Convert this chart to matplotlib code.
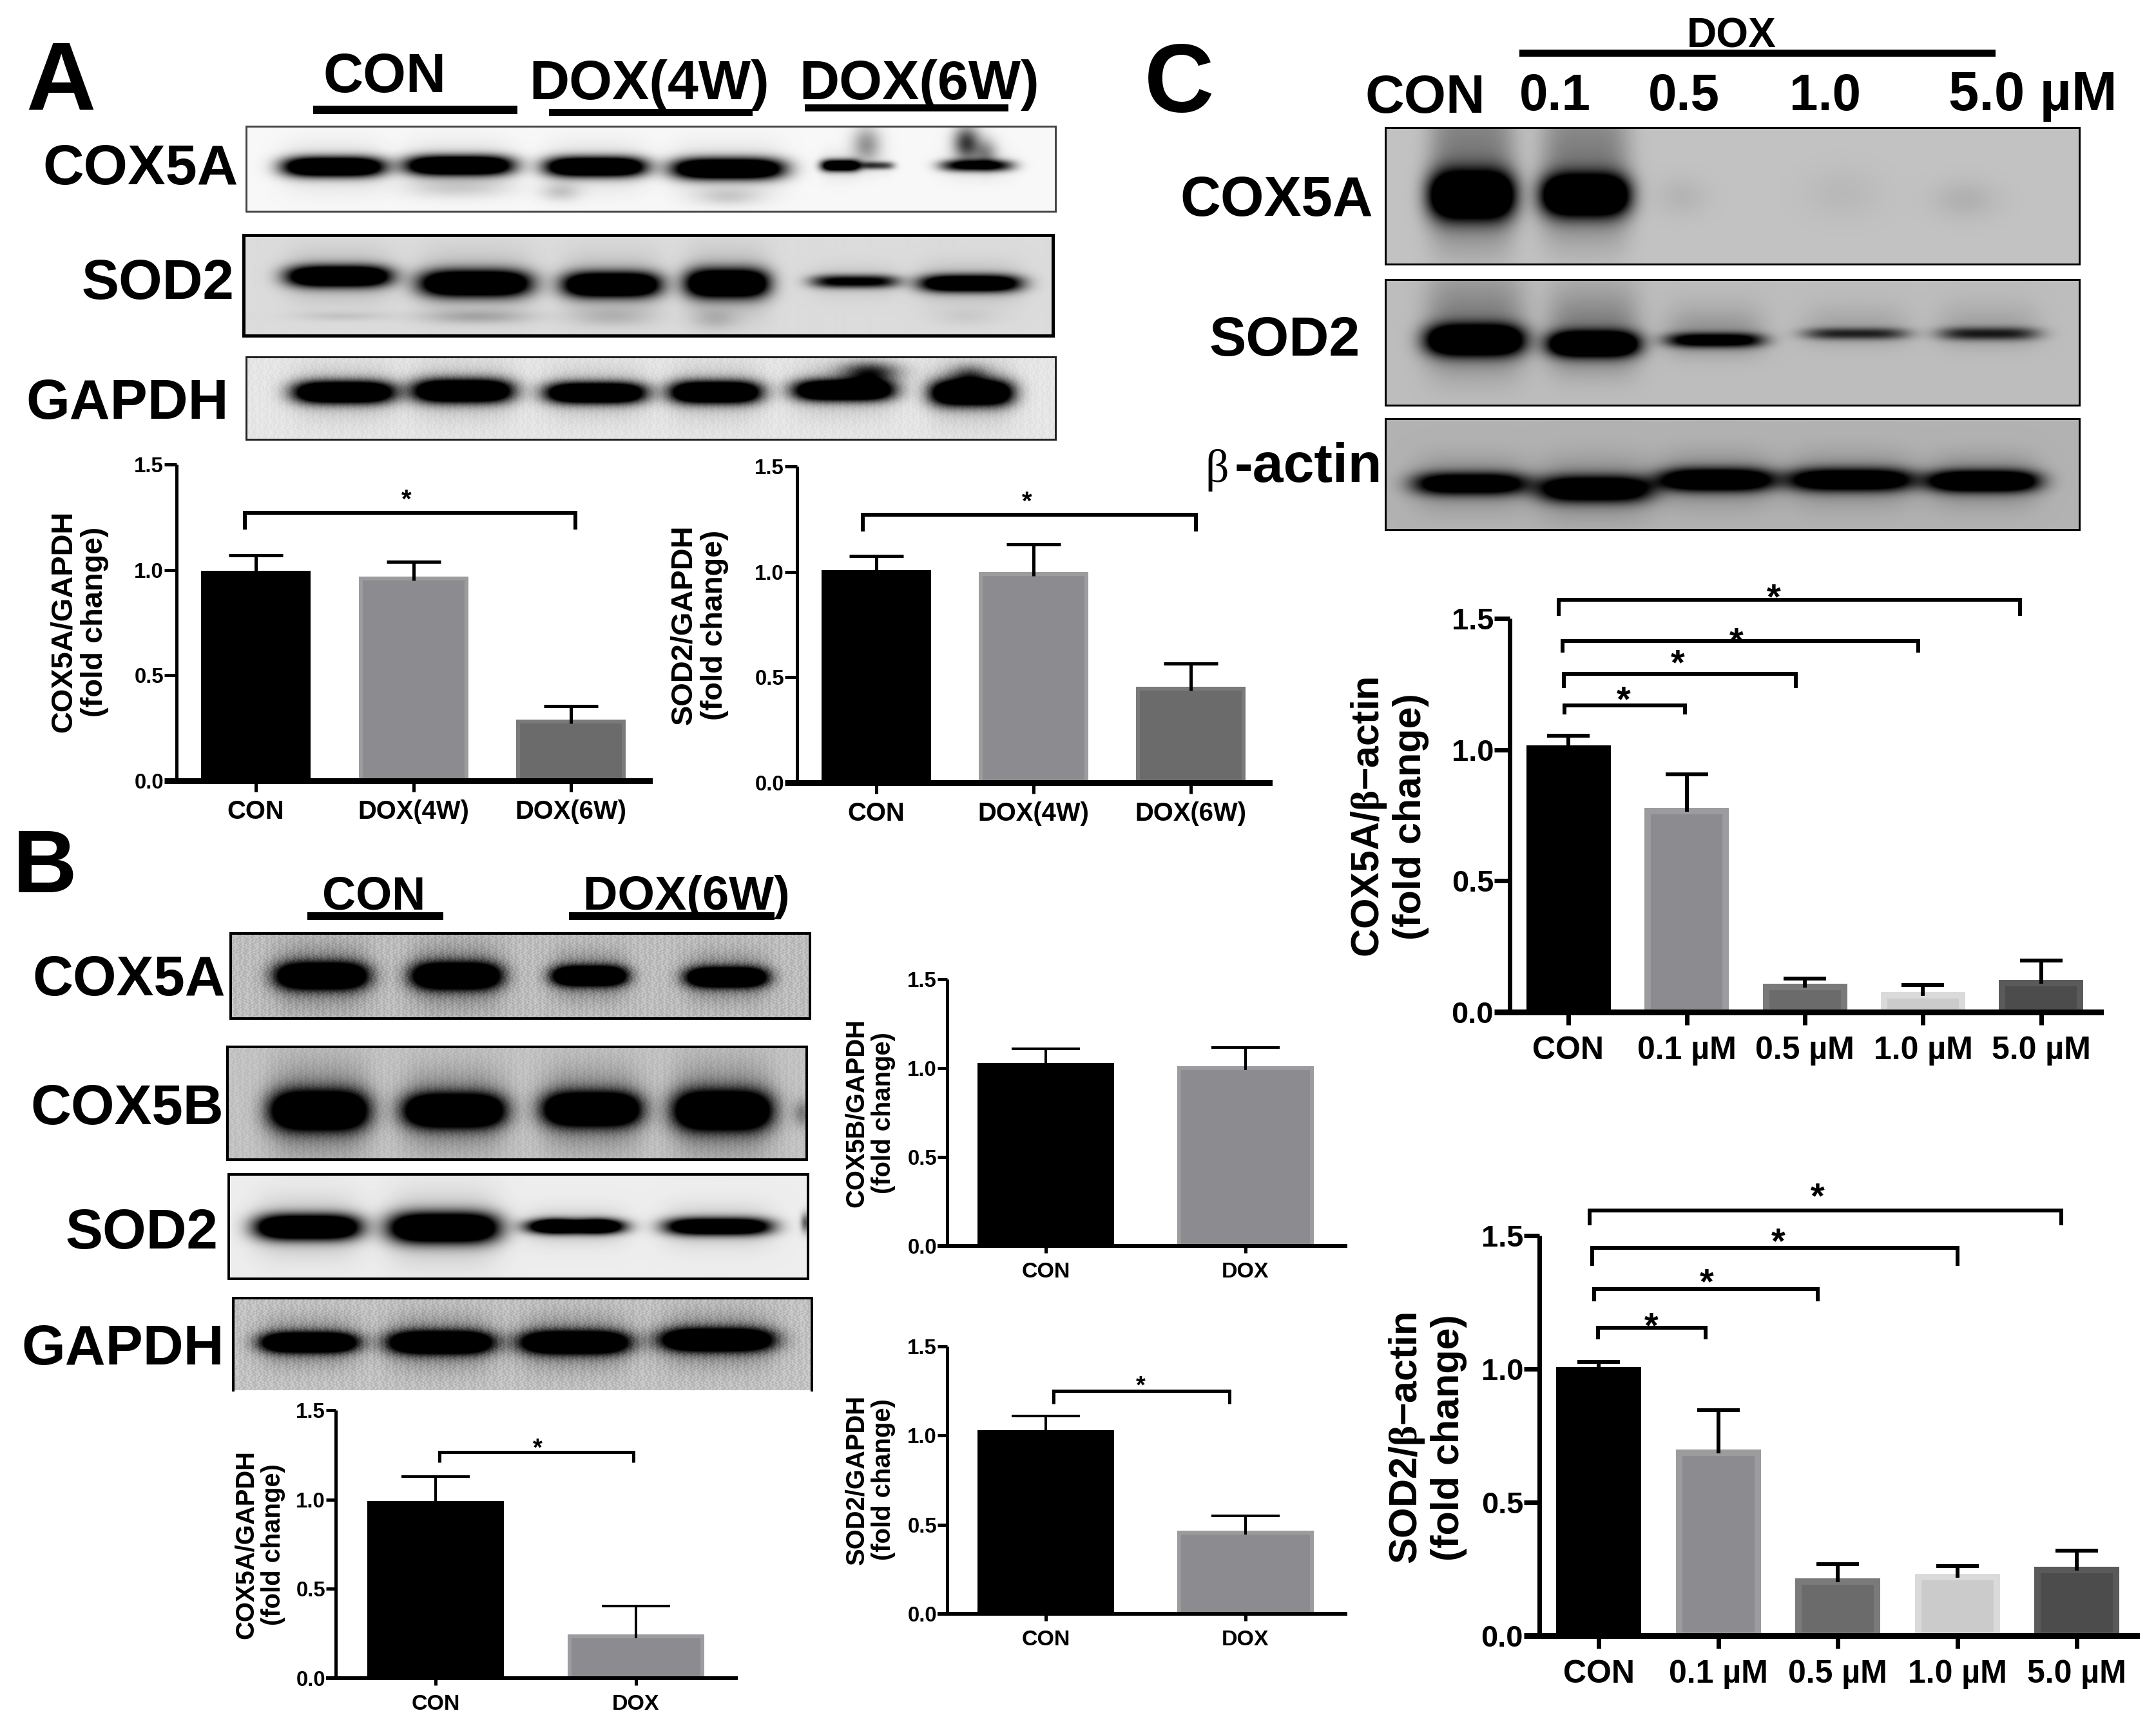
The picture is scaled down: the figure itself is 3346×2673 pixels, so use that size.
import numpy as np
import matplotlib
matplotlib.use("Agg")
import matplotlib.pyplot as plt

W, H = 3346, 2673
DPI = 100
PT = 72 / DPI
plt.rcParams.update({
    "font.family": ["Liberation Sans", "DejaVu Sans"],
    "font.weight": "bold",
    "axes.labelweight": "bold",
    "mathtext.fontset": "custom",
    "mathtext.rm": "Liberation Serif",
    "mathtext.bf": "Liberation Sans:bold",
    "mathtext.default": "bf",
})

# ------------ data ------------
A1_labels = ["CON", "DOX(4W)", "DOX(6W)"]
A1_means = [0.996, 0.967, 0.29]
A1_errs = [0.074, 0.073, 0.065]
A2_means = [1.008, 1.0, 0.455]
A2_errs = [0.067, 0.13, 0.109]

B_labels = ["CON", "DOX"]
B1_means = [0.993, 0.244]
B1_errs = [0.137, 0.161]
B2_means = [1.028, 1.011]
B2_errs = [0.079, 0.105]
B3_means = [1.03, 0.465]
B3_errs = [0.08, 0.085]

C_labels = ["CON", "0.1 µM", "0.5 µM", "1.0 µM", "5.0 µM"]
C1_means = [1.016, 0.779, 0.109, 0.076, 0.122]
C1_errs = [0.036, 0.126, 0.018, 0.027, 0.075]
C2_means = [1.008, 0.697, 0.215, 0.231, 0.259]
C2_errs = [0.018, 0.149, 0.053, 0.03, 0.061]

Y_TICKS = [0.0, 0.5, 1.0, 1.5]
FILLS = ["#000000", "#8c8c90", "#6b6b6b", "#cbcbcb", "#4c4c4c"]
EDGES = ["#000000", "#9c9c9e", "#7a7a7a", "#dadada", "#5a5a5a"]

fig = plt.figure(figsize=(W / DPI, H / DPI), dpi=DPI, facecolor="white")


def T(cx, base, s, px, ha="center", **kw):
    fig.text(cx / W, 1 - base / H, s, fontsize=px * PT, ha=ha, va="baseline", **kw)


def star(cx, cy, px):
    T(cx, cy + 0.58 * px, "*", px)


def line(x0, x1, y0, y1):
    fig.patches.append(plt.Rectangle((x0 / W, 1 - y1 / H), (x1 - x0) / W, (y1 - y0) / H,
                                     transform=fig.transFigure, color="black", lw=0))


def bars(box, centers, bar_w, labels, means, errs, ylabel, ylab_pos, ylab_px,
         ytick_px, xtick_px, spine, xspine, edge_px, cap_px, err_lw, tick_len,
         xtick_len, ypad, xpad, brackets=(), br_lw=5, stars=(), star_px=40):
    x0, x1, ytop, ybot = box
    ax = fig.add_axes([x0 / W, 1 - ybot / H, (x1 - x0) / W, (ybot - ytop) / H])
    c0 = centers[0]
    step = (centers[-1] - centers[0]) / (len(centers) - 1)
    tocat = lambda p: (p - c0) / step
    pos = np.arange(len(labels))
    per_px = 1.5 / (ybot - ytop)
    means = np.asarray(means)
    # the outline straddles the bar's edge: hold the top of the ink at the value
    ax.bar(pos, means - edge_px / 2 * per_px, width=(bar_w - edge_px) / step,
           color=FILLS[:len(labels)], edgecolor=EDGES[:len(labels)],
           linewidth=edge_px * PT, zorder=1)
    lower = np.full(len(errs), 6 * per_px)
    _, caps, _ = ax.errorbar(pos, means, yerr=[lower, errs], fmt="none", ecolor="black",
                             elinewidth=err_lw * PT, capsize=cap_px / 2 * PT,
                             capthick=err_lw * PT, zorder=3)
    caps[0].set_visible(False)
    ax.set_xlim(tocat(x0), tocat(x1))
    ax.set_ylim(0, 1.5)
    ax.patch.set_alpha(0)
    for s in ("top", "right"):
        ax.spines[s].set_visible(False)
    ax.spines["left"].set_linewidth(spine * PT)
    ax.spines["bottom"].set_linewidth(xspine * PT)
    ax.spines["left"].set_capstyle("butt")
    ax.set_xticks(pos, labels)
    ax.set_yticks(Y_TICKS, [f"{t:.1f}" for t in Y_TICKS])
    ax.tick_params(axis="y", length=tick_len * PT, width=spine * PT, labelsize=ytick_px * PT, pad=ypad * PT)
    ax.tick_params(axis="x", length=xtick_len * PT, width=spine * PT, labelsize=xtick_px * PT, pad=xpad * PT)
    ax.yaxis.get_major_ticks()[0].tick1line.set_markeredgewidth(xspine * PT)
    ax.set_ylabel(ylabel, fontsize=ylab_px * PT, linespacing=1.12)
    ax.yaxis.set_label_coords(ylab_pos[0] / W, 1 - ylab_pos[1] / H, transform=fig.transFigure)
    ax.yaxis.label.set_va("center")
    ax.yaxis.label.set_ha("center")
    for xl, xr, yt, yd in brackets:
        ax.plot([tocat(xl), tocat(xl), tocat(xr), tocat(xr)], [yd, yt, yt, yd], color="black",
                lw=br_lw * PT, clip_on=False, solid_joinstyle="miter", solid_capstyle="butt", zorder=4)
    for sx, sy in stars:
        star(sx, sy, star_px)
    return ax


def blot(rect, bg, bands, halo=0.35, up=1.0, lw=4, edge="black", hide_bottom=False,
         extra=(), grain=0.0):
    x0, x1, y0, y1 = rect
    ax = fig.add_axes([x0 / W, 1 - y1 / H, (x1 - x0) / W, (y1 - y0) / H])
    X, Y = np.meshgrid(np.arange(x0, x1) + 0.5, np.arange(y0, y1) + 0.5)
    dark = np.zeros_like(X, dtype=float)
    for xl, xr, cy, hh, amp in bands:
        cx, hw = (xl + xr) / 2, (xr - xl) / 2
        dx, dy = np.abs(X - cx), Y - cy
        core = np.exp(-(dx / hw) ** 4) * np.exp(-(np.abs(dy) / hh) ** 2.2)
        scale = np.where(dy < 0, hh * 2.3 * up, hh * 2.3)
        glow = np.exp(-(dx / (hw * 1.0)) ** 4) * np.exp(-(np.abs(dy) / scale) ** 2)
        dark += amp * 1.7 * core + halo * amp * glow
    for cx, hw, cy, hh, amp in extra:
        dark += amp * np.exp(-((X - cx) / hw) ** 2) * np.exp(-((Y - cy) / hh) ** 2)
    img = bg * (1 - np.clip(dark, 0, 1))
    if grain:
        # fixed film mottling, lighter where the membrane is not exposed
        tex = np.sin(X * 0.83 + 3 * np.sin(Y * 0.37)) * np.sin(Y * 0.71 + 2 * np.sin(X * 0.23))
        img = np.clip(img + grain * tex * (img > 0.2), 0, 1)
    ax.imshow(img, cmap="gray", vmin=0, vmax=1, aspect="auto", interpolation="bilinear",
              extent=(x0, x1, y1, y0))
    ax.set_xticks([])
    ax.set_yticks([])
    for s in ax.spines.values():
        s.set_linewidth(lw * PT)
        s.set_edgecolor(edge)
    if hide_bottom:
        ax.spines["bottom"].set_visible(False)
    return ax


# ------------ panel A ------------
T(94, 170, "A", 150)
T(597, 143, "CON", 86)
T(1008, 154, "DOX(4W)", 86)
T(1427, 154, "DOX(6W)", 86)
line(486, 803, 164, 177)
line(852, 1168, 169, 180)
line(1249, 1565, 162, 173)
T(218, 286, "COX5A", 88)
T(245, 464, "SOD2", 87)
T(198, 650, "GAPDH", 87)

blot((382, 1638, 196, 328), 0.97, [
    (439, 597, 259, 15, 1), (629, 797, 257, 15, 1), (846, 1003, 259, 15, 1),
    (1043, 1217, 262, 16, 1), (1274, 1335, 257, 9, .85), (1335, 1388, 257, 6, .4),
    (1459, 1573, 257, 9, .6)], halo=0.14, lw=3, edge="#444444",
    extra=[(1345, 22, 225, 28, .4), (1500, 20, 222, 26, .75), (1530, 18, 238, 22, .4),
           (710, 80, 292, 15, .14), (1130, 50, 305, 14, .16), (870, 30, 298, 14, .18)])
blot((378, 1634, 365, 521), 0.86, [
    (445, 607, 429, 16, 1), (651, 824, 440, 20, 1), (873, 1025, 442, 19, 1),
    (1063, 1193, 440, 22, 1), (1258, 1394, 437, 10, .6), (1426, 1584, 440, 13, .9)],
    halo=0.2, lw=5, extra=[(530, 70, 491, 7, .1), (740, 80, 492, 10, .2), (950, 60, 492, 14, .14),
                           (1110, 35, 495, 16, .15), (1500, 50, 492, 14, .07)])
blot((382, 1638, 554, 682), 0.9, [
    (455, 613, 609, 17, 1), (640, 797, 607, 18, 1), (846, 1003, 610, 16, 1),
    (1039, 1182, 609, 17, 1), (1231, 1388, 606, 16, 1), (1443, 1573, 610, 20, 1)],
    halo=0.2, lw=3, edge="#222222", grain=0.03, extra=[(1350, 45, 578, 16, .8), (1505, 30, 582, 16, .5)])

A_common = dict(ylab_px=47, ytick_px=33, xtick_px=40, spine=5, xspine=9, edge_px=6, cap_px=84,
                err_lw=5, tick_len=19, xtick_len=17, ypad=1, xpad=12, br_lw=6, star_px=40)
bars((274, 1008, 721, 1212), [397, 642, 886], 170, A1_labels, A1_means, A1_errs,
     "COX5A/GAPDH\n(fold change)", (123, 965), brackets=[(380, 893, 1.27, 1.19)],
     stars=[(631, 765)], **A_common)
bars((1237, 1970, 724, 1215), [1360, 1603, 1848], 170, A1_labels, A2_means, A2_errs,
     "SOD2/GAPDH\n(fold change)", (1085, 970), brackets=[(1339, 1856, 1.27, 1.19)],
     stars=[(1594, 768)], **A_common)

# ------------ panel B ------------
T(70, 1385, "B", 138)
T(580, 1412, "CON", 72)
T(1065, 1412, "DOX(6W)", 74)
line(477, 688, 1416, 1428)
line(883, 1202, 1416, 1428)
T(200, 1545, "COX5A", 87)
T(197, 1745, "COX5B", 87)
T(220, 1938, "SOD2", 87)
T(191, 2118, "GAPDH", 87)

blot((358, 1257, 1449, 1581), 0.74, [
    (427, 572, 1515, 20, 1), (638, 779, 1515, 20, 1), (856, 974, 1515, 15, 1), (1064, 1192, 1517, 15, 1)],
    halo=0.42, lw=4, grain=0.07)
blot((353, 1252, 1625, 1800), 0.76, [
    (419, 572, 1724, 29, 1), (626, 784, 1724, 25, 1), (842, 995, 1722, 25, 1), (1045, 1198, 1724, 29, 1)],
    halo=0.45, lw=4, grain=0.04, extra=[(1245, 14, 1728, 20, .35)])
blot((355, 1254, 1823, 1985), 0.93, [
    (396, 560, 1905, 19, 1), (603, 775, 1906, 23, 1), (817, 970, 1904, 11, .9), (1032, 1198, 1904, 13, .9)],
    halo=0.22, lw=4, extra=[(1250, 7, 1898, 15, .6), (860, 25, 1902, 10, .4), (930, 25, 1902, 10, .4)])
blot((362, 1260, 2015, 2158), 0.76, [
    (404, 556, 2084, 15, 1), (601, 767, 2084, 17, 1), (806, 978, 2084, 17, 1), (1024, 1202, 2080, 17, 1)],
    halo=0.42, lw=4, hide_bottom=True, grain=0.07)

B_common = dict(ytick_px=33, xtick_px=34, spine=5, xspine=6, edge_px=6, cap_px=106,
                err_lw=4, tick_len=15, xtick_len=11, ypad=1, xpad=14, br_lw=5, star_px=38)
bars((521, 1142, 2189, 2605), [676, 987], 212, B_labels, B1_means, B1_errs,
     "COX5A/GAPDH\n(fold change)", (403, 2398), ylab_px=40, brackets=[(682, 983, 1.267, 1.207)],
     stars=[(834, 2237)], **B_common)
bars((1470, 2088, 1520, 1934), [1623, 1933], 212, B_labels, B2_means, B2_errs,
     "COX5B/GAPDH\n(fold change)", (1350, 1728), ylab_px=40, **B_common)
bars((1470, 2088, 2090, 2505), [1623, 1933], 212, B_labels, B3_means, B3_errs,
     "SOD2/GAPDH\n(fold change)", (1350, 2297), ylab_px=40, brackets=[(1635, 1908, 1.25, 1.18)],
     stars=[(1770, 2140)], **B_common)

# ------------ panel C ------------
T(1830, 174, "C", 150)
T(2687, 73, "DOX", 64)
line(2358, 3097, 77, 88)
T(2212, 175, "CON", 84)
T(2413, 171, "0.1", 80)
T(2613, 171, "0.5", 80)
T(2832, 171, "1.0", 80)
T(3155, 171, "5.0 µM", 85)
T(1981, 335, "COX5A", 87)
T(1994, 552, "SOD2", 86)
T(1870, 748, "β", 72, ha="left", family="Liberation Serif", fontweight="normal")
T(2030, 748, "-actin", 86)

blot((2150, 3227, 198, 410), 0.76, [
    (2218, 2351, 303, 36, 1), (2392, 2529, 303, 31, 1)],
    halo=0.42, up=2.4, lw=3, extra=[(2610, 40, 305, 30, .07), (2860, 60, 300, 40, .05), (3050, 50, 310, 30, .09)])
blot((2150, 3227, 434, 629), 0.74, [
    (2213, 2366, 528, 23, 1), (2402, 2544, 534, 19, 1), (2585, 2738, 528, 11, .65),
    (2799, 2962, 518, 9, .4), (3008, 3165, 518, 10, .42)], halo=0.4, up=1.9, lw=3)
blot((2150, 3227, 650, 822), 0.7, [
    (2193, 2371, 751, 17, .75), (2386, 2565, 759, 20, .8), (2575, 2753, 745, 17, .85),
    (2773, 2972, 745, 17, .8), (2992, 3165, 747, 16, .9)], halo=0.36, lw=3)

C_common = dict(ylab_px=61, ytick_px=47, xtick_px=50, spine=7, xspine=9, edge_px=10, cap_px=66,
                err_lw=6, tick_len=24, xtick_len=20, ypad=1, xpad=17, br_lw=6, star_px=56)
bars((2343, 3260, 960, 1571), [2434, 2618, 2801, 2985, 3168], 131, C_labels, C1_means, C1_errs,
     r"$\mathbf{COX5A/}\mathrm{\beta}\mathbf{-actin}$" + "\n(fold change)", (2156, 1268),
     brackets=[(2419, 3135, 1.571, 1.511), (2425, 2977, 1.415, 1.369),
               (2427, 2787, 1.289, 1.236), (2428, 2615, 1.169, 1.135)],
     stars=[(2753, 912), (2695, 980), (2604, 1014), (2520, 1071)], **C_common)
bars((2389, 3316, 1918, 2539), [2481, 2667, 2852, 3038, 3223], 132, C_labels, C2_means, C2_errs,
     r"$\mathbf{SOD2/}\mathrm{\beta}\mathbf{-actin}$" + "\n(fold change)", (2215, 2232),
     brackets=[(2467, 3199, 1.593, 1.538), (2471, 3038, 1.453, 1.387),
               (2474, 2821, 1.30, 1.253), (2480, 2647, 1.154, 1.111)],
     stars=[(2821, 1842), (2760, 1912), (2649, 1975), (2563, 2043)], **C_common)

fig.savefig("out.png", dpi=DPI, facecolor="white")
